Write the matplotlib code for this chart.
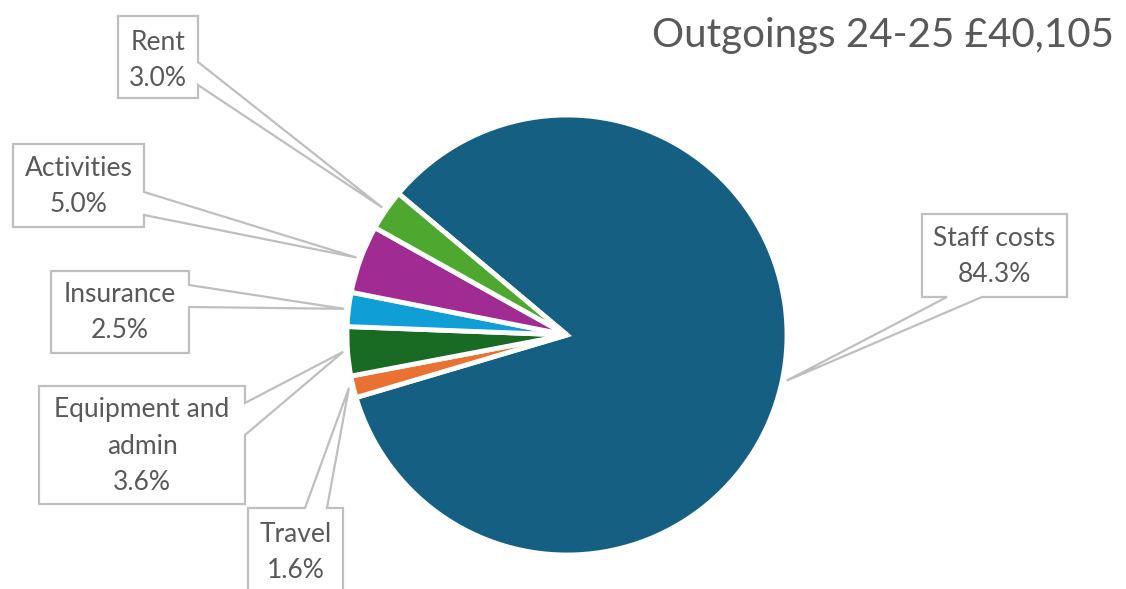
import numpy as np
import matplotlib
matplotlib.use("Agg")
import matplotlib.pyplot as plt
from matplotlib.patches import Polygon

# ---- data ----
categories = ["Staff costs", "Travel", "Equipment and admin", "Insurance", "Activities", "Rent"]
percent = [84.3, 1.6, 3.6, 2.5, 5.0, 3.0]
label_lines = [["Staff costs", "84.3%"], ["Travel", "1.6%"], ["Equipment and", "admin", "3.6%"],
               ["Insurance", "2.5%"], ["Activities", "5.0%"], ["Rent", "3.0%"]]
colors = ["#156082", "#E97132", "#196B24", "#0F9ED5", "#A02B93", "#4EA72E"]
title = "Outgoings 24-25 £40,105"

W, H = 1126, 589
fig = plt.figure(figsize=(W / 100, H / 100), dpi=100)
ax = fig.add_axes([0, 0, 1, 1])

def Y(y):
    return H - y

cx, cy, R = 567, 335, 220
START = 140.0
wedges, _ = ax.pie(percent, colors=colors, startangle=START, counterclock=False,
                   center=(cx, Y(cy)), radius=R,
                   wedgeprops=dict(edgecolor="white", linewidth=3.5))
ax.set_xlim(0, W)
ax.set_ylim(0, H)
ax.set_aspect("equal")
ax.axis("off")

# callout layout (pixel coords): box (x0, y0, x1, y1), side, base (a, b), text center y
layout = {
    "Staff costs": ((922, 214, 1067, 297), "bottom", (947, 982), 257),
    "Travel": ((248, 508, 343, 600), "top", (305, 327), 552),
    "Equipment and admin": ((39, 386, 245, 504), "right", (403, 435), 446),
    "Insurance": ((51, 271, 189, 353), "right", (285, 307), 313),
    "Activities": ((13, 144, 144, 227), "right", (192, 215), 186),
    "Rent": ((118, 16, 198, 98), "right", (62, 85), 60),
}

txt_color = "#595959"
edge_color = "#BFBFBF"
pitch = 36

for w, cat, lines in zip(wedges, categories, label_lines):
    mid = np.deg2rad((w.theta1 + w.theta2) / 2)
    tx = cx + R * 1.02 * np.cos(mid)
    ty = cy - R * 1.02 * np.sin(mid)
    (x0, y0, x1, y1), side, (a, b), tyc = layout[cat]
    if side == "right":
        pts = [(x0, y0), (x1, y0), (x1, a), (tx, ty), (x1, b), (x1, y1), (x0, y1)]
    elif side == "top":
        pts = [(x0, y0), (a, y0), (tx, ty), (b, y0), (x1, y0), (x1, y1), (x0, y1)]
    else:
        pts = [(x0, y0), (x1, y0), (x1, y1), (b, y1), (tx, ty), (a, y1), (x0, y1)]
    poly = Polygon([(px, Y(py)) for px, py in pts], closed=True, facecolor="white",
                   edgecolor=edge_color, linewidth=1.6, zorder=5)
    ax.add_patch(poly)
    xc = (x0 + x1) / 2
    n = len(lines)
    for i, line in enumerate(lines):
        yy = tyc + (i - (n - 1) / 2) * pitch
        ax.text(xc, Y(yy), line, ha="center", va="center", fontsize=19,
                family="Lato", color=txt_color, zorder=6)

ax.text(1114, Y(36), title, ha="right", va="center", fontsize=29, family="Lato",
        color=txt_color)

fig.savefig("out.png", dpi=100)
